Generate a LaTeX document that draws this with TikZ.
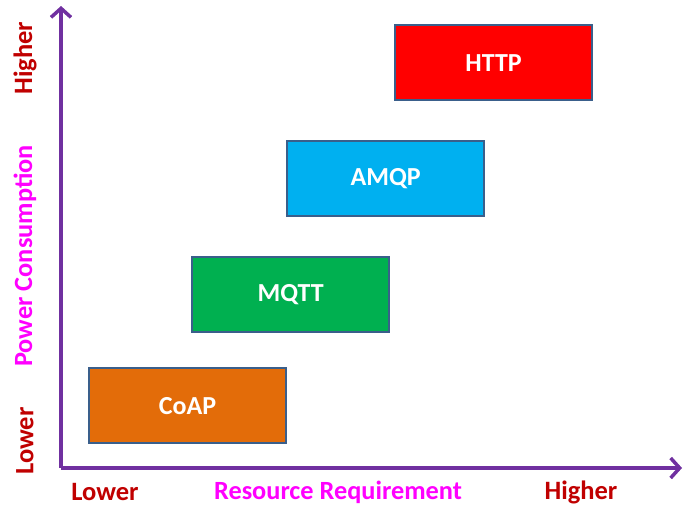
\documentclass[tikz,border=0pt]{standalone}
\usepackage{fontspec}
\setmainfont{Carlito}
\usetikzlibrary{arrows.meta}
\definecolor{axispurple}{HTML}{7030A0}
\definecolor{darkred}{HTML}{C00000}
\definecolor{mag}{HTML}{FF00FF}
\definecolor{boxborder}{HTML}{3A5F8B}
\definecolor{httpred}{HTML}{FF0000}
\definecolor{amqpblue}{HTML}{00B0F0}
\definecolor{mqttgreen}{HTML}{00B050}
\definecolor{coaporange}{HTML}{E36C09}
\begin{document}
\begin{tikzpicture}[x=1pt,y=-1pt,
  axis/.style={draw=axispurple,line width=3.5pt,-{Straight Barb[length=9pt,width=20pt,line width=3.5pt]}},
  proto/.style={draw=boxborder,line width=2.2pt,minimum width=197pt,minimum height=75pt,inner sep=0pt,
    text=white,font=\fontsize{26}{30}\selectfont\bfseries,anchor=north west},
  tick/.style={text=darkred,font=\fontsize{26.5}{30}\selectfont\bfseries,inner sep=0pt},
  title/.style={text=mag,font=\fontsize{26.3}{30}\selectfont\bfseries,inner sep=0pt}]
\useasboundingbox (0,0) rectangle (692,506);
\coordinate (origin) at (61,468);
\coordinate (ytip) at (61,6);
\coordinate (xtip) at (682,468);
\draw[axis] (origin) -- (ytip);
\draw[axis] (origin) -- (xtip);
\node[proto,fill=httpred] (http) at (394,24) {HTTP};
\node[proto,fill=amqpblue] (amqp) at (286,140) {AMQP};
\node[proto,fill=mqttgreen] (mqtt) at (191,256) {MQTT};
\node[proto,fill=coaporange] (coap) at (88,367) {CoAP};
\node[tick,rotate=90] (yhigh) at (25,58) {Higher};
\node[title,rotate=90] (ytitle) at (25,256) {Power Consumption};
\node[tick,rotate=90] (ylow) at (25,441) {Lower};
\node[tick] (xlow) at (105,492) {Lower};
\node[title] (xtitle) at (338,492) {Resource Requirement};
\node[tick] (xhigh) at (581,492) {Higher};
\end{tikzpicture}
\end{document}
